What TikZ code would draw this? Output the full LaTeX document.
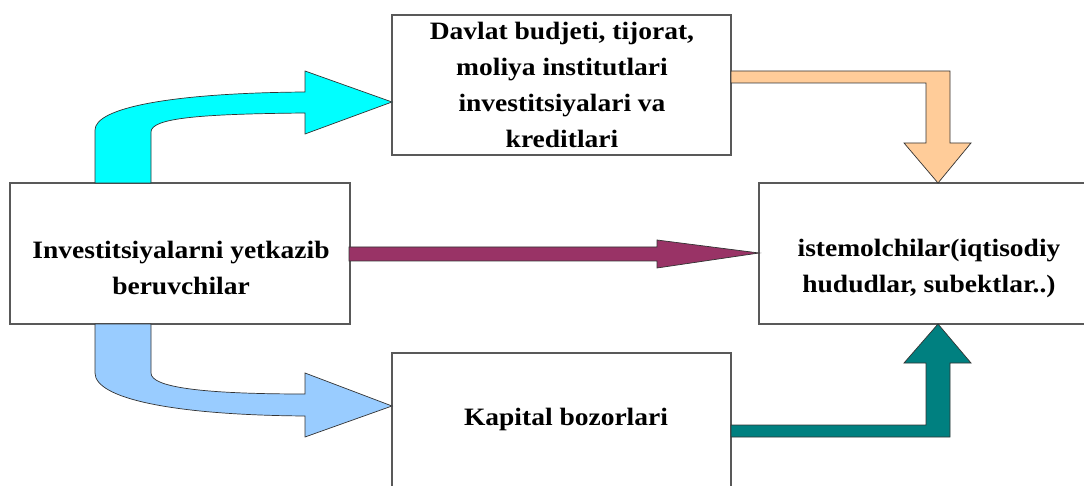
\documentclass[tikz,border=0pt]{standalone}
\usepackage{fontspec}
\newfontfamily\lbl{Liberation Serif}[FakeStretch=1.1]
\definecolor{boxline}{HTML}{595959}
\definecolor{arrline}{HTML}{333333}
\definecolor{cyanA}{HTML}{00FFFF}
\definecolor{blueA}{HTML}{99CCFF}
\definecolor{maroonA}{HTML}{993366}
\definecolor{orangeA}{HTML}{FFCC99}
\definecolor{tealA}{HTML}{008080}
\begin{document}
\begin{tikzpicture}[x=1pt,y=-1pt,
  box/.style={draw=boxline, line width=1.2pt, fill=white, rectangle, inner sep=0pt},
  txt/.style={font=\lbl\bfseries\fontsize{25}{36}\selectfont, align=center, inner sep=0pt, text=black},
  barrow/.style={draw=arrline, line width=0.7pt, line join=miter}]
\useasboundingbox (0,0) rectangle (1084,486);
\clip (0,0) rectangle (1084,486);
\fill[white] (0,0) rectangle (1084,486);
% boxes
\node[box, minimum width=340pt, minimum height=141pt] (src) at (180,253.5) {};
\node[box, minimum width=339pt, minimum height=140pt] (top) at (561.5,85) {};
\node[box, minimum width=341pt, minimum height=141pt] (cons) at (929.5,253.5) {};
\node[box, minimum width=339pt, minimum height=147pt] (cap) at (561.5,426.5) {};
% texts
\node[txt] (srct) at (181,268) {Investitsiyalarni yetkazib\\beruvchilar};
\node[txt] (topt) at (562,85) {Davlat budjeti, tijorat,\\moliya institutlari\\investitsiyalari va\\kreditlari};
\node[txt] (const) at (929,268) {istemolchilar(iqtisodiy\\hududlar, subektlar..)};
\node[txt, anchor=base] (capt) at (566,425) {Kapital bozorlari};
% block arrows
\filldraw[barrow, fill=cyanA] (95,183) -- (95,130) .. controls (95,108) and (170,93) .. (305,92)
  -- (305,71) -- (392,102) -- (305,134) -- (305,113)
  .. controls (200,114) and (151,118) .. (151,132) -- (151,183) -- cycle;
\filldraw[barrow, fill=blueA] (95,324) -- (95,373) .. controls (95,398) and (170,415) .. (305,416)
  -- (305,437) -- (392,406) -- (305,373) -- (305,394)
  .. controls (200,394) and (151,387) .. (151,373) -- (151,324) -- cycle;
\filldraw[barrow, fill=maroonA] (349,247) -- (657,247) -- (657,240) -- (759,253) -- (657,268) -- (657,261) -- (349,261) -- cycle;
\filldraw[barrow, fill=orangeA] (731,71) -- (950,71) -- (950,143) -- (971,143) -- (938,183) -- (904,143) -- (926,143) -- (926,83) -- (731,83) -- cycle;
\filldraw[barrow, fill=tealA] (731,437) -- (950,437) -- (950,363) -- (971,363) -- (938,324) -- (904,363) -- (926,363) -- (926,425) -- (731,425) -- cycle;
\end{tikzpicture}
\end{document}
